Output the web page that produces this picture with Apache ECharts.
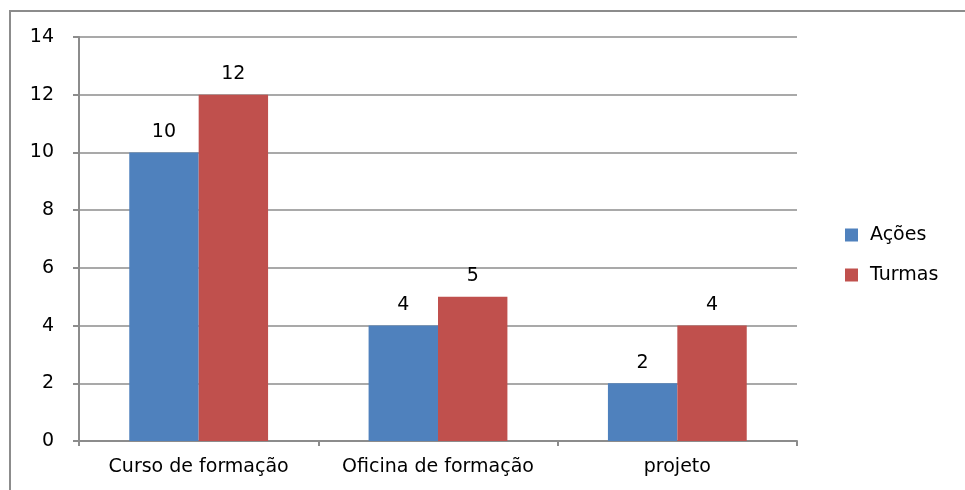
<!DOCTYPE html>
<html>
<head>
<meta charset="utf-8">
<script src="https://cdn.jsdelivr.net/npm/echarts@6/dist/echarts.min.js"></script>
<style>
  html, body { margin: 0; padding: 0; background: #fff; }
  #chart { width: 965px; height: 490px; }
</style>
</head>
<body>
<div id="chart"></div>
<script>
const categories = ["Curso de formação", "Oficina de formação", "projeto"];
const acoes = [10, 4, 2];
const turmas = [12, 5, 4];

const FONT = "DejaVu Sans, Verdana, sans-serif";
const GREY = "#8c8c8c";

const chart = echarts.init(document.getElementById("chart"));

const labelStyle = {
  show: true,
  position: "top",
  distance: 11,
  color: "#000",
  fontSize: 19,
  fontFamily: FONT,
};

chart.setOption({
  animation: false,
  graphic: [
    {
      type: "rect",
      shape: { x: 10, y: 11, width: 1000, height: 600 },
      style: { fill: "none", stroke: GREY, lineWidth: 2 },
      silent: true,
    },
  ],
  grid: { left: 79, right: 168, top: 37, bottom: 49 },
  legend: {
    orient: "vertical",
    left: 840,
    top: 220,
    itemWidth: 13,
    itemHeight: 13,
    itemGap: 20,
    icon: "rect",
    textStyle: { fontSize: 19, lineHeight: 20, fontFamily: FONT, color: "#000", padding: [0, 0, 0, 7] },
    data: ["Ações", "Turmas"],
  },
  xAxis: {
    type: "category",
    data: categories,
    axisLine: { lineStyle: { color: GREY, width: 2 } },
    axisTick: { show: true, length: 5, lineStyle: { color: GREY, width: 2 } },
    axisLabel: { color: "#000", fontSize: 19, fontFamily: FONT, margin: 17, interval: 0 },
  },
  yAxis: {
    type: "value",
    min: 0,
    max: 14,
    interval: 2,
    axisLine: { show: true, lineStyle: { color: GREY, width: 2 } },
    axisTick: { show: true, length: 6, lineStyle: { color: GREY, width: 2 } },
    axisLabel: { color: "#000", fontSize: 19, fontFamily: FONT, margin: 25 },
    splitLine: { lineStyle: { color: GREY, width: 1.5 } },
  },
  series: [
    {
      name: "Ações",
      type: "bar",
      data: acoes,
      itemStyle: { color: "#4f81bd" },
      barGap: "0%",
      barCategoryGap: "42%",
      label: labelStyle,
    },
    {
      name: "Turmas",
      type: "bar",
      data: turmas,
      itemStyle: { color: "#c0504d" },
      label: labelStyle,
    },
  ],
});
</script>
</body>
</html>
